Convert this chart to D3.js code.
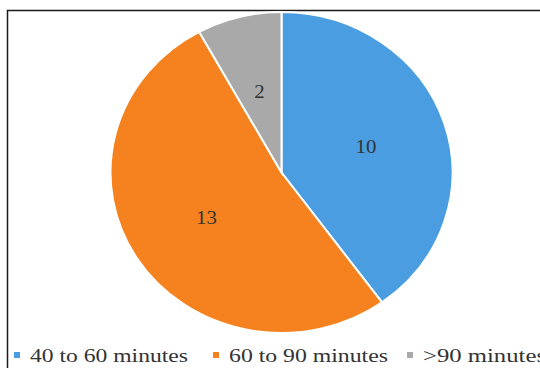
<!DOCTYPE html>
<html>
<head>
<meta charset="utf-8">
<script src="https://cdn.jsdelivr.net/npm/d3@7"></script>
<style>
  html, body { margin: 0; padding: 0; background: #fff; }
  svg { display: block; }
</style>
</head>
<body>
<svg id="chart" width="540" height="368"></svg>
<script>
// Travel time categories and number of respondents
const categories = ["40 to 60 minutes", "60 to 90 minutes", ">90 minutes"];
const counts = [10, 13, 2];
const colors = ["#4a9de0", "#f5821f", "#a9a9a9"];

const svg = d3.select("#chart");
const serif = "'Liberation Serif', Tinos, 'Times New Roman', Times, serif";

// chart frame (right and bottom edges run off the canvas)
svg.append("rect")
  .attr("x", 7.5).attr("y", 10.5)
  .attr("width", 600).attr("height", 400)
  .attr("fill", "#fff")
  .attr("stroke", "#1a1a1a")
  .attr("stroke-width", 1.5);

const cx = 281.5, cy = 172.5;
const ry = 160.5, rx = 171;

const pie = d3.pie().sort(null).value(d => d);
const arcs = pie(counts);
const arc = d3.arc().innerRadius(0).outerRadius(ry);

const g = svg.append("g")
  .attr("transform", `translate(${cx},${cy}) scale(${rx / ry},1)`);

g.selectAll("path.slice")
  .data(arcs)
  .join("path")
  .attr("class", "slice")
  .attr("d", arc)
  .attr("fill", (d, i) => colors[i])
  .attr("stroke", "#fff")
  .attr("stroke-width", 2)
  .attr("vector-effect", "non-scaling-stroke");

// value labels at slice centroids
const labelArc = d3.arc().innerRadius(ry * 1.04).outerRadius(0);
svg.append("g")
  .selectAll("text")
  .data(arcs)
  .join("text")
  .attr("transform", d => {
    const [x, y] = labelArc.centroid(d);
    return `translate(${cx + x * rx / ry},${cy + y}) scale(1.1,1)`;
  })
  .attr("text-anchor", "middle")
  .attr("dy", "0.35em")
  .attr("font-family", serif)
  .attr("font-size", 19)
  .attr("fill", "#333")
  .text(d => d.data);

// legend
const legendX = [14, 213, 407];
const legendTextW = [158, 159, 123];
const legend = svg.append("g")
  .selectAll("g")
  .data(categories)
  .join("g")
  .attr("transform", (d, i) => `translate(${legendX[i]},0)`);

legend.append("rect")
  .attr("x", 0).attr("y", 352)
  .attr("width", 6).attr("height", 6)
  .attr("fill", (d, i) => colors[i]);

legend.append("text")
  .attr("x", 16)
  .attr("y", 362)
  .attr("textLength", (d, i) => legendTextW[i])
  .attr("lengthAdjust", "spacingAndGlyphs")
  .attr("font-family", serif)
  .attr("font-size", 18)
  .attr("fill", "#333")
  .text(d => d);
</script>
</body>
</html>
